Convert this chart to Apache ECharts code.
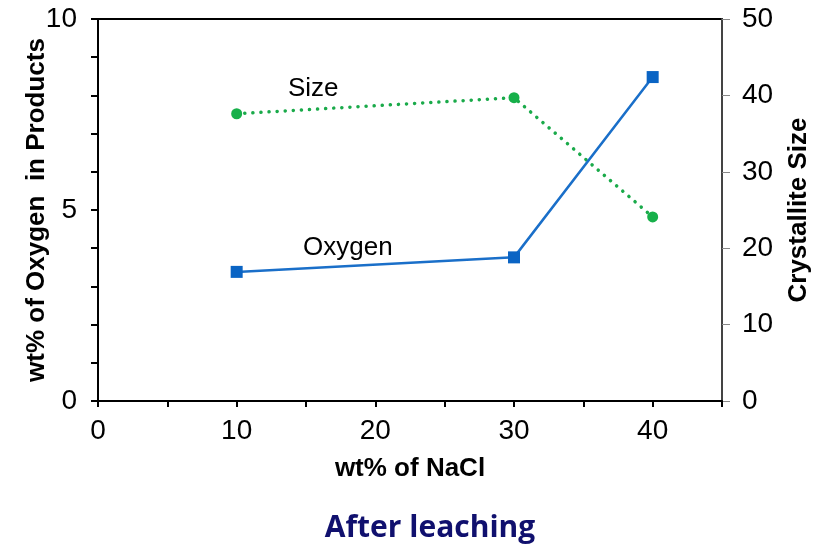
<!DOCTYPE html>
<html><head><meta charset="utf-8">
<script src="https://cdn.jsdelivr.net/npm/echarts@6/dist/echarts.min.js"></script>
<style>html,body{margin:0;padding:0;background:#fff}#c{width:814px;height:547px}</style>
</head><body><div id="c"></div>
<script>
const nacl = [10, 30, 40];
const oxygen = [3.38, 3.76, 8.48];
const size = [37.6, 39.7, 24.1];
const xTickLabels = [0, 10, 20, 30, 40];
const leftTickLabels = [0, 5, 10];
const rightTickLabels = [0, 10, 20, 30, 40, 50];

const chart = echarts.init(document.getElementById('c'));
const font = 'Liberation Sans, Arial, sans-serif';
chart.setOption({
  animation: false,
  backgroundColor: '#fff',
  grid: {left: 98, right: 92, top: 19, bottom: 146, show: true, borderColor: '#000', borderWidth: 2,
    containLabel: false, outerBoundsMode: 'none'},
  graphic: [
    {type: 'text', x: 288, y: 89, style: {text: 'Size', font: '26px ' + font, fill: '#000', textVerticalAlign: 'middle'}},
    {type: 'text', x: 303, y: 248, style: {text: 'Oxygen', font: '26px ' + font, fill: '#000', textVerticalAlign: 'middle'}},
    {type: 'text', x: 430, y: 528, style: {text: 'After leaching', font: 'bold 30px "Open Sans", sans-serif', fill: '#10106e', textAlign: 'center', textVerticalAlign: 'middle'}}
  ],
  xAxis: {type: 'value', min: 0, max: 45, interval: 5,
    name: 'wt% of NaCl', nameLocation: 'middle', nameGap: 55, nameMoveOverlap: false,
    nameTextStyle: {fontFamily: font, fontWeight: 'bold', fontSize: 26, color: '#000'},
    axisLine: {show: true, lineStyle: {color: '#000', width: 2}},
    axisTick: {show: true, length: 6, lineStyle: {color: '#000', width: 2}},
    axisLabel: {fontFamily: font, fontSize: 28, color: '#000', margin: 16,
      formatter: v => xTickLabels.includes(v) ? String(v) : ''},
    splitLine: {show: false}},
  yAxis: [
    {type: 'value', min: 0, max: 10, interval: 1, position: 'left',
      name: 'wt% of Oxygen  in Products', nameLocation: 'middle', nameGap: 48, nameMoveOverlap: false,
      nameTextStyle: {fontFamily: font, fontWeight: 'bold', fontSize: 26, color: '#000'},
      axisLine: {show: true, lineStyle: {color: '#000', width: 2}},
      axisTick: {show: true, length: 7, lineStyle: {color: '#000', width: 2}},
      axisLabel: {fontFamily: font, fontSize: 28, color: '#000', margin: 21,
        formatter: v => leftTickLabels.includes(v) ? String(v) : ''},
      splitLine: {show: false}},
    {type: 'value', min: 0, max: 50, interval: 10, position: 'right',
      name: 'Crystallite Size', nameLocation: 'middle', nameGap: 64, nameRotate: 90, nameMoveOverlap: false,
      nameTextStyle: {fontFamily: font, fontWeight: 'bold', fontSize: 26, color: '#000'},
      axisLine: {show: true, lineStyle: {color: '#444', width: 2}},
      axisTick: {show: true, length: 8, lineStyle: {color: '#888', width: 1}},
      axisLabel: {fontFamily: font, fontSize: 28, color: '#000', margin: 20,
        formatter: v => rightTickLabels.includes(v) ? String(v) : ''},
      splitLine: {show: false}}
  ],
  series: [
    {name: 'Oxygen', type: 'line', yAxisIndex: 0, data: nacl.map((x, i) => [x, oxygen[i]]),
      symbol: 'rect', symbolSize: 12, lineStyle: {color: '#1a6fc9', width: 2.5},
      itemStyle: {color: '#0a64c4'}, z: 3},
    {name: 'Size', type: 'line', yAxisIndex: 1, data: nacl.map((x, i) => [x, size[i]]),
      symbol: 'circle', symbolSize: 11, lineStyle: {color: '#1aaa4a', width: 3.5, type: [0.1, 8], cap: 'round'},
      itemStyle: {color: '#17b04a'}, z: 2}
  ]
});
</script></body></html>
